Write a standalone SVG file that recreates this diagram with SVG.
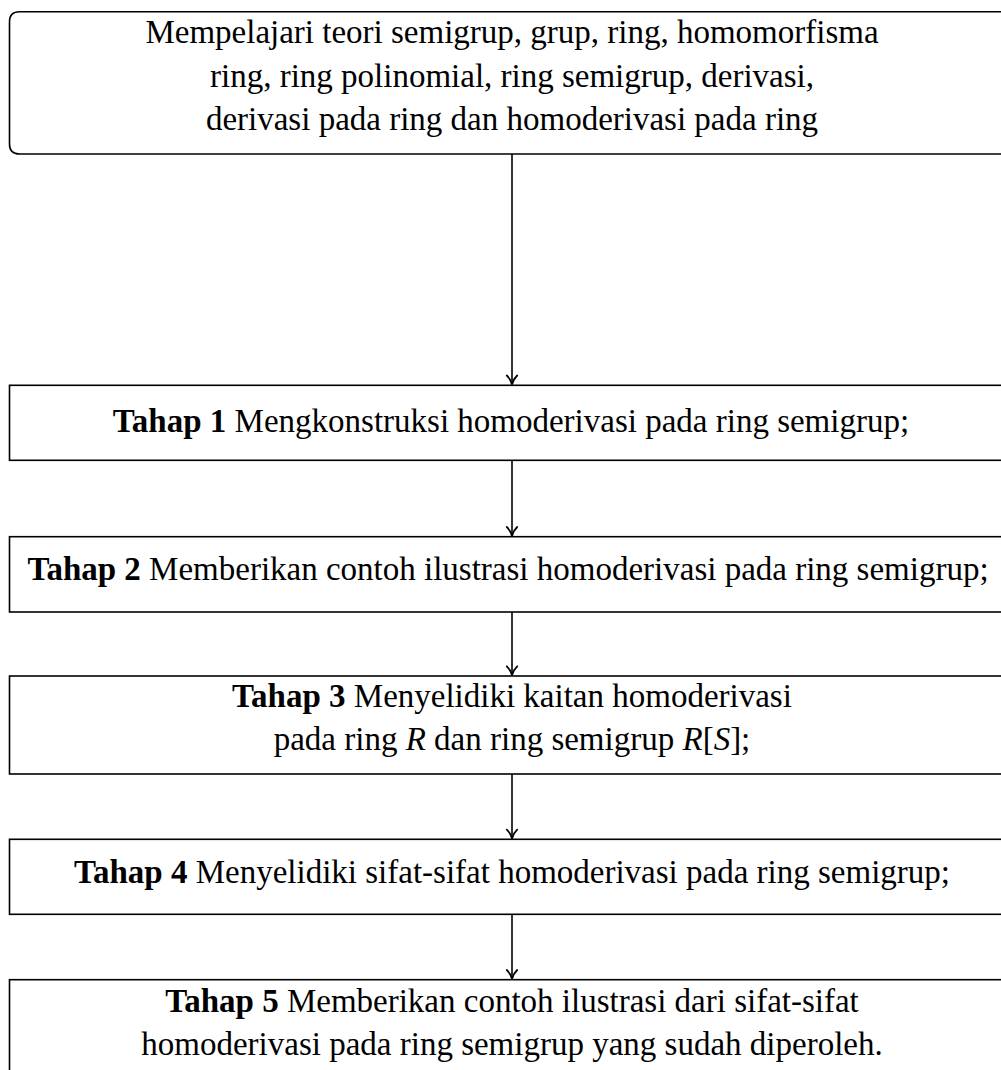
<svg xmlns="http://www.w3.org/2000/svg" width="1001" height="1070" viewBox="0 0 1001 1070">
<style>
.box{fill:#fff;stroke:#000;stroke-width:1.6}
.t{font-family:"Liberation Serif","Times New Roman",serif;font-size:33px;fill:#000;text-anchor:middle}
.b{font-weight:bold}
.i{font-style:italic}
.c{stroke:#000;stroke-width:1.6;fill:none}
</style>
<defs>
<marker id="ar" markerWidth="16" markerHeight="16" refX="12" refY="8" orient="auto" markerUnits="userSpaceOnUse">
<path d="M3,2.8 Q6.5,6.6 12,8 Q6.5,9.4 3,13.2" fill="none" stroke="#000" stroke-width="1.8" stroke-linecap="round"/>
</marker>
</defs>
<g id="node0">
<path class="box" d="M1020,11.7 H19.5 Q9.5,11.7 9.5,21.7 V144 Q9.5,154 19.5,154 H1020"/>
<text class="t" x="512" y="43">Mempelajari teori semigrup, grup, ring, homomorfisma</text>
<text class="t" x="512" y="87">ring, ring polinomial, ring semigrup, derivasi,</text>
<text class="t" x="512" y="130">derivasi pada ring dan homoderivasi pada ring</text>
</g>
<g id="node1">
<rect class="box" x="9.5" y="385.3" width="1010" height="75"/>
<text class="t" x="511" y="432"><tspan class="b">Tahap 1</tspan> Mengkonstruksi homoderivasi pada ring semigrup;</text>
</g>
<g id="node2">
<rect class="box" x="9.5" y="536.7" width="1010" height="75.3"/>
<text class="t" x="508" y="580"><tspan class="b">Tahap 2</tspan> Memberikan contoh ilustrasi homoderivasi pada ring semigrup;</text>
</g>
<g id="node3">
<rect class="box" x="9.5" y="676" width="1010" height="98"/>
<text class="t" x="512" y="707"><tspan class="b">Tahap 3</tspan> Menyelidiki kaitan homoderivasi</text>
<text class="t" x="512" y="750">pada ring <tspan class="i">R</tspan> dan ring semigrup <tspan class="i">R</tspan>[<tspan class="i">S</tspan>];</text>
</g>
<g id="node4">
<rect class="box" x="9.5" y="839.3" width="1010" height="75"/>
<text class="t" x="512" y="883"><tspan class="b">Tahap 4</tspan> Menyelidiki sifat-sifat homoderivasi pada ring semigrup;</text>
</g>
<g id="node5">
<rect class="box" x="9.5" y="979.7" width="1010" height="120"/>
<text class="t" x="512" y="1012"><tspan class="b">Tahap 5</tspan> Memberikan contoh ilustrasi dari sifat-sifat</text>
<text class="t" x="512" y="1055">homoderivasi pada ring semigrup yang sudah diperoleh.</text>
</g>
<g id="connectors">
<line class="c" x1="512" y1="154" x2="512" y2="384.5" marker-end="url(#ar)"/>
<line class="c" x1="512" y1="460.3" x2="512" y2="536" marker-end="url(#ar)"/>
<line class="c" x1="512" y1="612" x2="512" y2="675.3" marker-end="url(#ar)"/>
<line class="c" x1="512" y1="774" x2="512" y2="838.6" marker-end="url(#ar)"/>
<line class="c" x1="512" y1="914.3" x2="512" y2="979" marker-end="url(#ar)"/>
</g>
</svg>
